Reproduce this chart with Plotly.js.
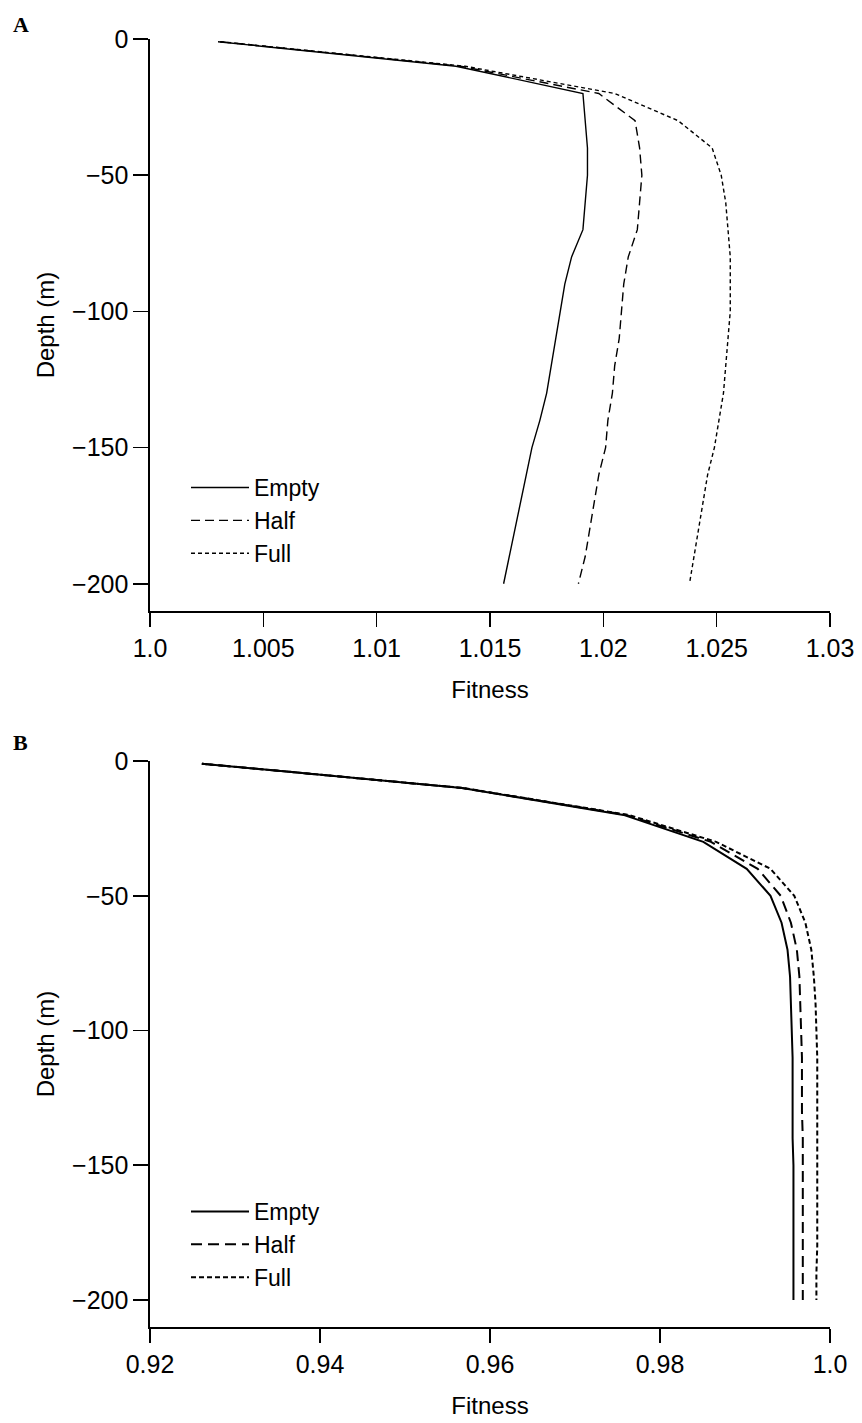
<!DOCTYPE html>
<html>
<head>
<meta charset="utf-8">
<script src="https://cdn.plot.ly/plotly-3.0.1.min.js"></script>
<style>
  html, body { margin: 0; padding: 0; background: #ffffff; }
  #chart { width: 862px; height: 1423px; }
</style>
</head>
<body>
<div id="chart"></div>
<script>
// ---------- data ----------
const depths = [-1, -10, -20, -30, -40, -50, -60, -70, -80, -90, -100, -110, -120, -130, -140, -150, -160, -170, -180, -190, -200];

// Panel A
const fitnessA_empty = [1.0030, 1.0135, 1.0191, 1.0192, 1.0193, 1.0193, 1.0192, 1.0191, 1.0186, 1.0183, 1.0181, 1.0179, 1.0177, 1.0175, 1.0172, 1.01685, 1.0166, 1.01635, 1.0161, 1.01585, 1.0156];
const fitnessA_half  = [1.0031, 1.0137, 1.0198, 1.0214, 1.0216, 1.0217, 1.0216, 1.0215, 1.0211, 1.0209, 1.0208, 1.0207, 1.0205, 1.0204, 1.0202, 1.0201, 1.0198, 1.0196, 1.0194, 1.0192, 1.0189];
const fitnessA_full  = [1.0031, 1.0139, 1.0205, 1.0233, 1.0248, 1.0252, 1.0254, 1.0255, 1.0256, 1.0256, 1.0256, 1.0255, 1.0254, 1.0253, 1.0251, 1.0249, 1.0246, 1.0244, 1.0242, 1.0240, 1.0238];

// Panel B
const fitnessB_empty = [0.9261, 0.9567, 0.9757, 0.9851, 0.9902, 0.9930, 0.9943, 0.9950, 0.9953, 0.9954, 0.9955, 0.9956, 0.9956, 0.9956, 0.9956, 0.9957, 0.9957, 0.9957, 0.9957, 0.9957, 0.9957];
const fitnessB_half  = [0.9261, 0.9567, 0.9760, 0.9860, 0.9915, 0.9942, 0.9954, 0.9961, 0.9964, 0.9965, 0.9966, 0.9967, 0.9967, 0.9967, 0.9968, 0.9968, 0.9968, 0.9968, 0.9968, 0.9968, 0.9968];
const fitnessB_full  = [0.9261, 0.9568, 0.9763, 0.9866, 0.9930, 0.9958, 0.9971, 0.9978, 0.9981, 0.9983, 0.9984, 0.9985, 0.9985, 0.9985, 0.9985, 0.9985, 0.9985, 0.9985, 0.9985, 0.9984, 0.9984];

const seriesNames = ["Empty", "Half", "Full"];

const xTicksA = [1.0, 1.005, 1.01, 1.015, 1.02, 1.025, 1.03];
const xTickTextA = ["1.0", "1.005", "1.01", "1.015", "1.02", "1.025", "1.03"];
const xTicksB = [0.92, 0.94, 0.96, 0.98, 1.0];
const xTickTextB = ["0.92", "0.94", "0.96", "0.98", "1.0"];
const yTicks = [0, -50, -100, -150, -200];

const panelLabels = ["A", "B"];
const xTitle = "Fitness";
const yTitle = "Depth (m)";

// ---------- styling ----------
const FONT = "Liberation Sans, Arial, sans-serif";
const dashA = ["solid", "9px,5px", "4px,3px"];
const dashB = ["solid", "11px,6px", "5px,3px"];

function mk(x, name, dash, width, xa, ya, legend) {
  return {
    x: x, y: depths, name: name, type: "scatter", mode: "lines",
    line: { color: "#000", width: width, dash: dash },
    xaxis: xa, yaxis: ya, legend: legend, hoverinfo: "x+y+name"
  };
}

const data = [
  mk(fitnessA_empty, seriesNames[0], dashA[0], 1.4, "x", "y", "legend"),
  mk(fitnessA_half,  seriesNames[1], dashA[1], 1.4, "x", "y", "legend"),
  mk(fitnessA_full,  seriesNames[2], dashA[2], 1.4, "x", "y", "legend"),
  mk(fitnessB_empty, seriesNames[0], dashB[0], 2, "x2", "y2", "legend2"),
  mk(fitnessB_half,  seriesNames[1], dashB[1], 2, "x2", "y2", "legend2"),
  mk(fitnessB_full,  seriesNames[2], dashB[2], 2, "x2", "y2", "legend2")
];

const W = 862, H = 1423;
const xDom = [150 / W, 830 / W];

function xaxis(ticks, text, anchor) {
  return {
    domain: xDom, anchor: anchor, range: [ticks[0], ticks[ticks.length - 1]],
    tickmode: "array", tickvals: ticks, ticktext: text,
    showline: true, linecolor: "#000", linewidth: 1.6,
    ticks: "outside", ticklen: 14, tickwidth: 1.6, tickcolor: "#000",
    showgrid: false, zeroline: false,
    tickfont: { family: FONT, size: 25, color: "#000" },
    title: { text: xTitle, font: { family: FONT, size: 24, color: "#000" }, standoff: 20 }
  };
}
function yaxis(domain, anchor) {
  return {
    domain: domain, anchor: anchor, range: [-210, 0],
    tickmode: "array", tickvals: yTicks,
    showline: true, linecolor: "#000", linewidth: 1.6,
    ticks: "outside", ticklen: 15, tickwidth: 1.6, tickcolor: "#000",
    showgrid: false, zeroline: false,
    tickfont: { family: FONT, size: 25, color: "#000" },
    title: { text: yTitle, font: { family: FONT, size: 24, color: "#000" }, standoff: 10 }
  };
}

const layout = {
  width: W, height: H,
  margin: { l: 0, r: 0, t: 0, b: 0 },
  paper_bgcolor: "#fff", plot_bgcolor: "#fff",
  showlegend: true,
  xaxis: xaxis(xTicksA, xTickTextA, "y"),
  yaxis: yaxis([1 - 611 / H, 1 - 39 / H], "x"),
  xaxis2: xaxis(xTicksB, xTickTextB, "y2"),
  yaxis2: yaxis([1 - 1327 / H, 1 - 761 / H], "x2"),
  legend: {
    x: 186 / W, xanchor: "left", y: 1 - 466 / H, yanchor: "top",
    bgcolor: "rgba(0,0,0,0)", borderwidth: 0,
    font: { family: FONT, size: 23, color: "#000" }, itemwidth: 58
  },
  legend2: {
    x: 186 / W, xanchor: "left", y: 1 - 1190 / H, yanchor: "top",
    bgcolor: "rgba(0,0,0,0)", borderwidth: 0,
    font: { family: FONT, size: 23, color: "#000" }, itemwidth: 58
  },
  annotations: [
    { text: "<b>" + panelLabels[0] + "</b>", xref: "paper", yref: "paper", x: 11 / W, y: 1 - 10 / H,
      xanchor: "left", yanchor: "top", showarrow: false, font: { family: "Liberation Serif, Times New Roman, serif", size: 22, color: "#000" } },
    { text: "<b>" + panelLabels[1] + "</b>", xref: "paper", yref: "paper", x: 11 / W, y: 1 - 728 / H,
      xanchor: "left", yanchor: "top", showarrow: false, font: { family: "Liberation Serif, Times New Roman, serif", size: 22, color: "#000" } }
  ]
};

Plotly.newPlot("chart", data, layout, { displayModeBar: false, staticPlot: true });
</script>
</body>
</html>
